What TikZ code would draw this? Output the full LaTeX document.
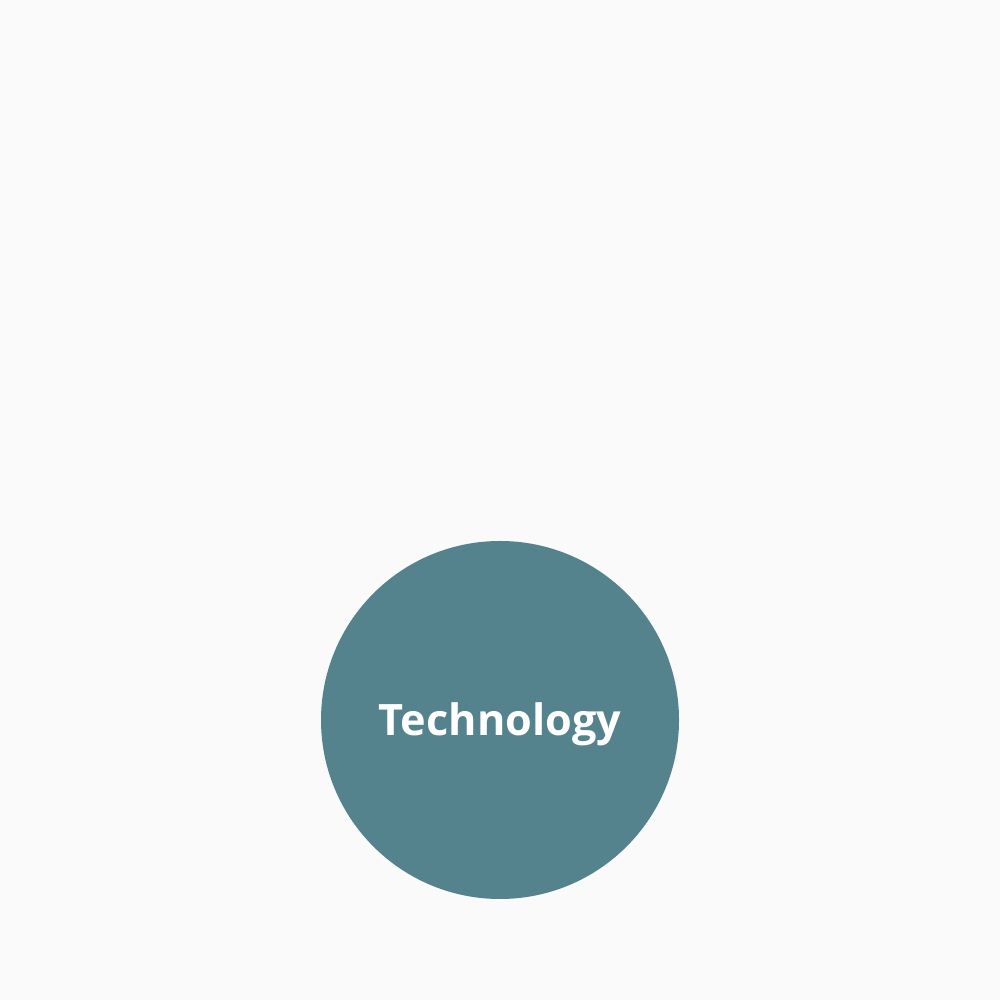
\documentclass[tikz,border=0pt]{standalone}
\usepackage{fontspec}
\setmainfont{Open Sans}
\definecolor{bg}{HTML}{FAFAFA}
\definecolor{teal}{HTML}{54838D}
\tikzset{topic/.style={circle,fill=teal,minimum size=3.58cm,inner sep=0pt,text=white,font=\fontsize{12.3pt}{14pt}\selectfont\bfseries}}
\begin{document}
\begin{tikzpicture}
\fill[bg] (0,0) rectangle (10,10);
\useasboundingbox (0,0) rectangle (10,10);
\node[topic] (tech) at (5,2.8) {\smash{\raisebox{-0.16cm}{Technology}}};
\end{tikzpicture}
\end{document}
